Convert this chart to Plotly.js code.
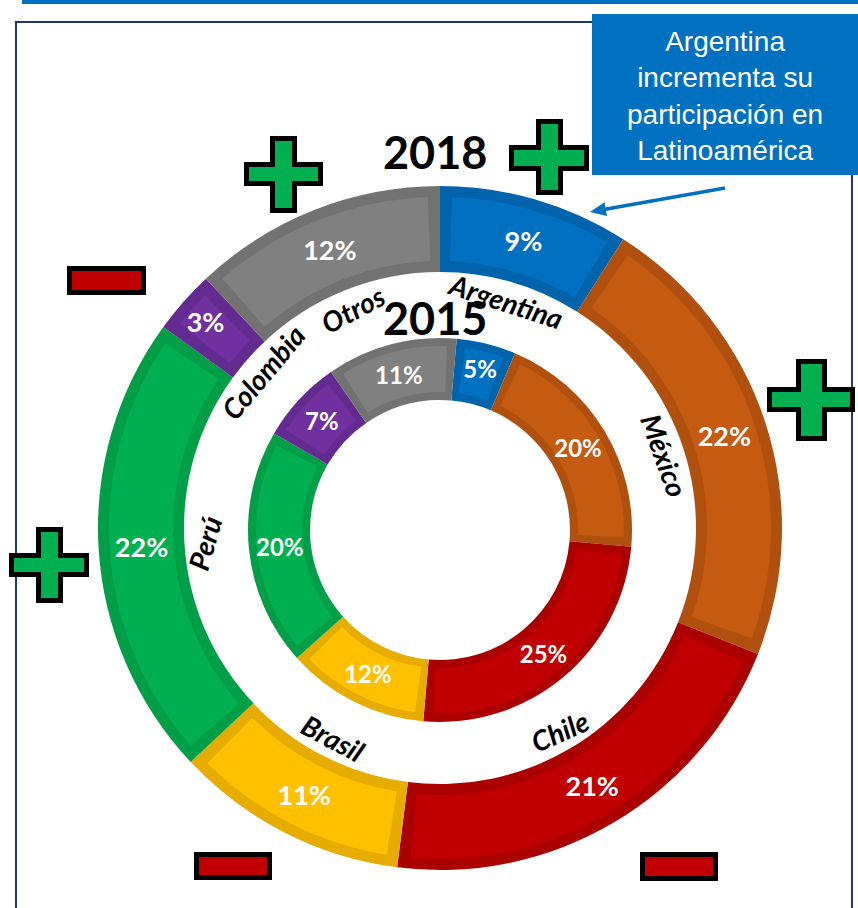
<!DOCTYPE html>
<html>
<head>
<meta charset="utf-8">
<script src="https://cdn.plot.ly/plotly-3.0.1.min.js"></script>
<style>html,body{margin:0;padding:0;background:#fff;}#chart{width:858px;height:908px;}</style>
</head>
<body>
<div id="chart"></div>
<script>
// ---- data ----
var countries = ['Argentina', 'México', 'Chile', 'Brasil', 'Perú', 'Colombia', 'Otros'];
var share2018 = [9, 22, 21, 11, 22, 3, 12];
var share2015 = [5, 20, 25, 12, 20, 7, 11];
var yearOuter = '2018';
var yearInner = '2015';
var calloutText = 'Argentina<br>incrementa su<br>participación en<br>Latinoamérica';

// ---- styles ----
var W = 858, H = 908;
var lightColors = ['#0070C0', '#C55A11', '#C00000', '#FFC000', '#00B050', '#7030A0', '#808080'];
var darkColors  = ['#0063AB', '#B0500F', '#AB0000', '#E6AD00', '#009E47', '#632A8F', '#727272'];
var labelAngles = [18, 70, -24, 28, -74, -50, -28];
var CLEAR = 'rgba(0,0,0,0)';

function px(x) { return x / W; }
function py(y) { return 1 - y / H; }
function dom(cx, cy, r) {
  return { x: [(cx - r) / W, (cx + r) / W], y: [(H - cy - r) / H, (H - cy + r) / H] };
}

// geometry (pixels)
var outer = { cx: 440, cy: 528, r: 342, hole: 256, band: 11, rot: 0, labelR: 236 };
var inner = { cx: 440, cy: 530, r: 192, hole: 130, band: 8, rot: 5 };

function ringTraces(vals, g, fontSize) {
  var traces = [];
  traces.push({
    type: 'pie', values: vals, labels: countries, sort: false, direction: 'clockwise',
    rotation: g.rot, hole: g.hole / g.r, domain: dom(g.cx, g.cy, g.r),
    marker: { colors: darkColors, line: { width: 0 } },
    textinfo: 'none', hoverinfo: 'skip', showlegend: false
  });
  var rTop = g.r - g.band;
  var holeTop = (g.hole + g.band) / rTop;
  var midR = (g.r + g.hole) / 2;
  var gapPct = (g.band / midR) * 180 / Math.PI / 360 * 100;
  var tv = [], tc = [], tl = [];
  vals.forEach(function (v, i) {
    tv.push(gapPct, v - 2 * gapPct, gapPct);
    tc.push(CLEAR, lightColors[i], CLEAR);
    tl.push(countries[i] + ' a', countries[i], countries[i] + ' b');
  });
  traces.push({
    type: 'pie', values: tv, labels: tl, sort: false, direction: 'clockwise',
    rotation: g.rot, hole: holeTop, domain: dom(g.cx, g.cy, rTop),
    marker: { colors: tc, line: { width: 0 } },
    textinfo: 'none', hoverinfo: 'skip', showlegend: false
  });
  traces.push({
    type: 'pie', values: vals, labels: countries, sort: false, direction: 'clockwise',
    rotation: g.rot, hole: g.hole / g.r, domain: dom(g.cx, g.cy, g.r),
    marker: { colors: countries.map(function () { return CLEAR; }), line: { width: 0 } },
    text: vals.map(function (v) { return v + '%'; }),
    textinfo: 'text', textposition: 'inside', insidetextorientation: 'horizontal',
    textfont: { family: 'Lato, sans-serif', size: fontSize, color: '#ffffff', weight: 'bold' },
    hoverinfo: 'skip', showlegend: false
  });
  return traces;
}

var data = [].concat(ringTraces(share2018, outer, 27), ringTraces(share2015, inner, 24));

var annotations = [];
var cum = 0;
var total = share2018.reduce(function (a, b) { return a + b; }, 0);
share2018.forEach(function (v, i) {
  var mid = (cum + v / 2) / total * 2 * Math.PI;
  cum += v;
  var x = outer.cx + outer.labelR * Math.sin(mid);
  var y = outer.cy - outer.labelR * Math.cos(mid);
  annotations.push({
    xref: 'paper', yref: 'paper', x: px(x), y: py(y), showarrow: false,
    text: '<b><i>' + countries[i] + '</i></b>', textangle: labelAngles[i],
    font: { family: 'Lato, sans-serif', size: 28, color: '#000000' },
    xanchor: 'center', yanchor: 'middle'
  });
});
annotations.push({
  xref: 'paper', yref: 'paper', x: px(435), y: py(152), showarrow: false,
  text: '<b>' + yearOuter + '</b>', font: { family: 'Lato, sans-serif', size: 45, color: '#000' },
  xanchor: 'center', yanchor: 'middle'
});
annotations.push({
  xref: 'paper', yref: 'paper', x: px(435), y: py(318), showarrow: false,
  text: '<b>' + yearInner + '</b>', font: { family: 'Lato, sans-serif', size: 45, color: '#000' },
  xanchor: 'center', yanchor: 'middle'
});
annotations.push({
  xref: 'paper', yref: 'paper', x: px(725), y: py(96), showarrow: false,
  text: calloutText, font: { family: 'Liberation Sans, Arial, sans-serif', size: 28, color: '#ffffff' },
  xanchor: 'center', yanchor: 'middle', align: 'center'
});

function rectPx(x0, y0, x1, y1, fill, lineColor, lw, layer) {
  return { type: 'rect', xref: 'paper', yref: 'paper', x0: px(x0), x1: px(x1), y0: py(y0), y1: py(y1),
    fillcolor: fill, line: { color: lineColor, width: lw }, layer: layer || 'above' };
}
function pathPx(pts, fill, lineColor, lw) {
  var d = pts.map(function (p, i) { return (i ? 'L' : 'M') + px(p[0]) + ',' + py(p[1]); }).join(' ') + ' Z';
  return { type: 'path', xref: 'paper', yref: 'paper', path: d, fillcolor: fill,
    line: { color: lineColor, width: lw }, layer: 'above' };
}
function crossPx(x0, y0, x1, y1, vx0, vx1, hy0, hy1) {
  var s = 2.5;
  x0 += s; y0 += s; x1 -= s; y1 -= s; vx0 += s; vx1 -= s; hy0 += s; hy1 -= s;
  return pathPx([[vx0, y0], [vx1, y0], [vx1, hy0], [x1, hy0], [x1, hy1], [vx1, hy1], [vx1, y1],
    [vx0, y1], [vx0, hy1], [x0, hy1], [x0, hy0], [vx0, hy0]], '#00B050', '#000000', 5);
}
function minusPx(x0, y0, x1, y1) {
  return rectPx(x0 + 2.5, y0 + 2.5, x1 - 2.5, y1 - 2.5, '#C00000', '#000000', 5);
}

var shapes = [];
shapes.push(rectPx(22, -2, 862, 4, '#0070C0', '#0070C0', 0));
shapes.push(rectPx(16, 22, 852, 915, 'rgba(0,0,0,0)', '#1F3864', 2, 'below'));
shapes.push(rectPx(592, 14, 862, 175, '#0070C0', '#0070C0', 0));
var tail = [725, 188], tip = [590, 212];
var dx = tip[0] - tail[0], dy = tip[1] - tail[1], len = Math.sqrt(dx * dx + dy * dy);
var ux = dx / len, uy = dy / len;
var hl = 16, hw = 7;
var bx = tip[0] - hl * ux, by = tip[1] - hl * uy;
shapes.push({ type: 'line', xref: 'paper', yref: 'paper', x0: px(tail[0]), y0: py(tail[1]),
  x1: px(bx + 2 * ux), y1: py(by + 2 * uy), line: { color: '#0070C0', width: 3.5 } });
shapes.push(pathPx([[tip[0], tip[1]], [bx - uy * hw, by + ux * hw], [bx + uy * hw, by - ux * hw]], '#0070C0', '#0070C0', 0));
shapes.push(crossPx(244, 136, 323, 213, 270, 297, 162, 186));
shapes.push(crossPx(509, 119, 589, 195, 536, 563, 145, 171));
shapes.push(crossPx(767, 359, 855, 441, 796, 827, 387, 412));
shapes.push(crossPx(9, 527, 89, 603, 36, 63, 553, 577));
shapes.push(minusPx(67, 266, 146, 295));
shapes.push(minusPx(194, 852, 272, 880));
shapes.push(minusPx(640, 852, 718, 881));

var layout = {
  width: W, height: H,
  margin: { l: 0, r: 0, t: 0, b: 0 },
  paper_bgcolor: '#ffffff', plot_bgcolor: '#ffffff',
  showlegend: false,
  annotations: annotations,
  shapes: shapes
};

Plotly.newPlot('chart', data, layout, { displayModeBar: false, staticPlot: true });
</script>
</body>
</html>
